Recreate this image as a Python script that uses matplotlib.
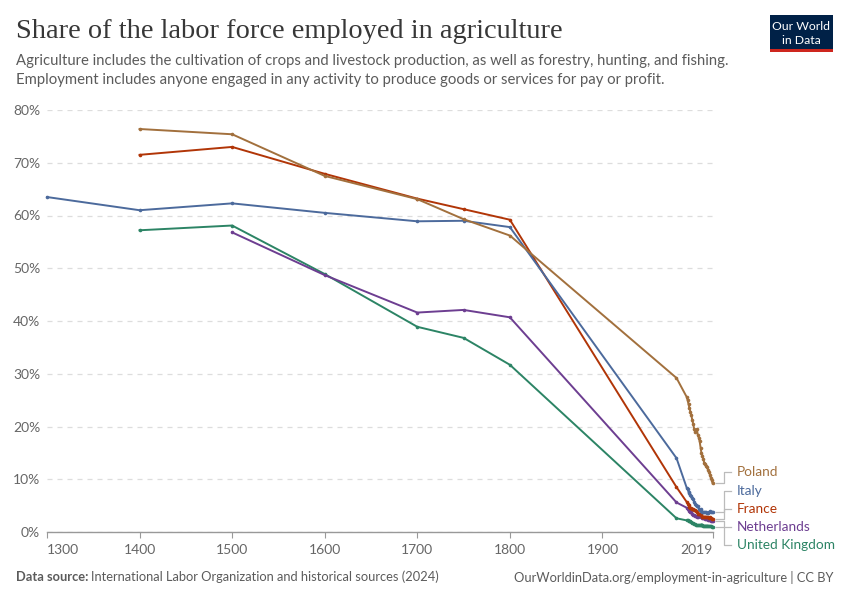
import matplotlib
matplotlib.use("Agg")
import matplotlib.pyplot as plt
from matplotlib.patches import Rectangle

# ---------------- data ----------------
years_hist_pl = [1400, 1500, 1600, 1700, 1750, 1800, 1980]
poland_hist = [76.4, 75.4, 67.5, 63.1, 59.3, 56.2, 29.2]
years_hist_fr = [1400, 1500, 1600, 1700, 1750, 1800, 1980]
france_hist = [71.5, 73.0, 67.9, 63.2, 61.2, 59.2, 8.5]
years_hist_it = [1300, 1400, 1500, 1600, 1700, 1750, 1800, 1980]
italy_hist = [63.5, 61.0, 62.3, 60.5, 58.9, 59.0, 57.8, 14.0]
years_hist_nl = [1500, 1600, 1700, 1750, 1800, 1980]
netherlands_hist = [56.8, 48.7, 41.6, 42.1, 40.7, 5.6]
years_hist_uk = [1400, 1500, 1600, 1700, 1750, 1800, 1980]
uk_hist = [57.2, 58.1, 48.9, 38.9, 36.8, 31.7, 2.6]

years_ilo = list(range(1991, 2020))
poland_ilo = [25.6, 25.0, 24.2, 23.5, 22.8, 22.1, 21.3, 20.5, 19.6, 19.0,
              19.3, 19.5, 18.4, 17.9, 17.2, 16.0, 14.9, 14.5, 13.8, 13.1,
              12.9, 12.6, 12.3, 11.8, 11.4, 10.9, 10.3, 9.8, 9.2]
italy_ilo = [8.4, 8.1, 7.6, 7.3, 7.0, 6.8, 6.5, 6.2, 5.7, 5.3,
             5.2, 4.9, 4.9, 4.4, 4.2, 4.3, 4.0, 3.8, 3.8, 3.8,
             3.7, 3.7, 3.6, 3.6, 3.8, 3.9, 3.8, 3.7, 3.8]
france_ilo = [5.7, 5.4, 5.1, 4.8, 4.6, 4.5, 4.4, 4.3, 4.2, 4.1,
              4.0, 3.7, 3.5, 3.4, 3.5, 3.4, 3.2, 2.9, 2.9, 2.9,
              2.9, 2.9, 2.8, 2.8, 2.7, 2.8, 2.6, 2.5, 2.5]
netherlands_ilo = [4.6, 4.4, 4.2, 4.0, 3.8, 3.7, 3.5, 3.3, 3.2, 3.1,
                   3.0, 2.9, 2.9, 3.0, 3.1, 3.0, 2.8, 2.7, 2.6, 2.7,
                   2.5, 2.5, 2.4, 2.3, 2.3, 2.2, 2.1, 2.1, 2.1]
uk_ilo = [2.2, 2.2, 2.1, 2.1, 2.0, 1.9, 1.8, 1.7, 1.6, 1.5,
          1.4, 1.3, 1.3, 1.3, 1.3, 1.3, 1.4, 1.4, 1.2, 1.2,
          1.2, 1.2, 1.2, 1.2, 1.1, 1.1, 1.1, 1.0, 1.0]

countries = ["Poland", "Italy", "France", "Netherlands", "United Kingdom"]
colors = {"Poland": "#A2703D", "Italy": "#4C6A9C", "France": "#B13507",
          "Netherlands": "#6D3E91", "United Kingdom": "#2C8465"}
series = {
    "Poland": (years_hist_pl + years_ilo, poland_hist + poland_ilo),
    "Italy": (years_hist_it + years_ilo, italy_hist + italy_ilo),
    "France": (years_hist_fr + years_ilo, france_hist + france_ilo),
    "Netherlands": (years_hist_nl + years_ilo, netherlands_hist + netherlands_ilo),
    "United Kingdom": (years_hist_uk + years_ilo, uk_hist + uk_ilo),
}
label_y = {"Poland": 11.4, "Italy": 7.8, "France": 4.35, "Netherlands": 0.95,
           "United Kingdom": -2.45}

x_ticks = [1300, 1400, 1500, 1600, 1700, 1800, 1900, 2019]
y_ticks = [0, 10, 20, 30, 40, 50, 60, 70, 80]

# ---------------- figure ----------------
W, H = 850, 600
fig = plt.figure(figsize=(W / 100, H / 100), dpi=100)
plt.rcParams['font.family'] = ['Lato', 'DejaVu Sans']

def fx(px):
    return px / W

def fy(py):
    return 1 - py / H

ax = fig.add_axes([fx(47), fy(532), fx(712.6) - fx(47), fy(110) - fy(532)])
ax.set_xlim(1300, 2019)
ax.set_ylim(0, 80)

for c in ["United Kingdom", "Netherlands", "France", "Italy", "Poland"]:
    xs, ys = series[c]
    ax.plot(xs, ys, color=colors[c], lw=1.4, marker='o', ms=2.6,
            markeredgewidth=0, clip_on=False, zorder=3)

for s in ["top", "right", "left"]:
    ax.spines[s].set_visible(False)
ax.spines["bottom"].set_color("#999999")
ax.spines["bottom"].set_linewidth(1)

ax.set_yticks(y_ticks)
ax.set_yticklabels([f"{v}%" for v in y_ticks])
ax.tick_params(axis='y', length=0, pad=5, labelsize=10, labelcolor="#666666")
ax.grid(axis='y', color="#dddddd", linestyle=(0, (4, 4)), lw=0.9)
ax.set_axisbelow(True)

ax.set_xticks(x_ticks)
ax.set_xticklabels([str(v) for v in x_ticks])
ax.tick_params(axis='x', length=4, width=0.8, color="#999999", pad=5,
               labelsize=10, labelcolor="#666666")
xl = ax.get_xticklabels()
xl[0].set_horizontalalignment('left')
xl[-1].set_horizontalalignment('right')

# end labels with connectors
x_start, x_elbow, x_end, x_text = 2023, 2031, 2038.5, 2045.5
for c in countries:
    xs, ys = series[c]
    y0 = ys[-1]
    yl = label_y[c]
    ax.plot([x_start, x_elbow, x_elbow, x_end], [y0, y0, yl, yl],
            color="#bbbbbb", lw=0.9, clip_on=False, zorder=1)
    ax.text(x_text, yl, c, color=colors[c], fontsize=9.8, va='center',
            ha='left', clip_on=False)

# title & subtitle
fig.text(fx(16), fy(31), "Share of the labor force employed in agriculture",
         family=["Liberation Serif", "DejaVu Serif"], fontsize=20.4,
         color="#373737", va='center', ha='left')
fig.text(fx(16), fy(61), "Agriculture includes the cultivation of crops and livestock production, as well as forestry, hunting, and fishing.",
         fontsize=10.7, color="#5b5b5b", va='center', ha='left')
fig.text(fx(16), fy(80), "Employment includes anyone engaged in any activity to produce goods or services for pay or profit.",
         fontsize=10.7, color="#5b5b5b", va='center', ha='left')

# logo
fig.patches.append(Rectangle((fx(770), fy(52)), fx(833) - fx(770), fy(15) - fy(52),
                             transform=fig.transFigure, facecolor="#002147",
                             edgecolor='none', zorder=5))
fig.patches.append(Rectangle((fx(770), fy(52)), fx(833) - fx(770), fy(49) - fy(52),
                             transform=fig.transFigure, facecolor="#CE261E",
                             edgecolor='none', zorder=6))
fig.text(fx(801.5), fy(27), "Our World", color="white", fontsize=8.8,
         ha='center', va='center', zorder=7)
fig.text(fx(801.5), fy(40), "in Data", color="white", fontsize=8.8,
         ha='center', va='center', zorder=7)

# footer
t1 = fig.text(fx(16), fy(577), "Data source:", fontsize=9.3, color="#5b5b5b",
              weight='bold', va='center', ha='left')
fig.canvas.draw()
bb = t1.get_window_extent()
fig.text(bb.x1 / W + 3 / W, fy(577),
         "International Labor Organization and historical sources (2024)",
         fontsize=9.3, color="#5b5b5b", va='center', ha='left')
fig.text(fx(834), fy(577), "OurWorldinData.org/employment-in-agriculture | CC BY",
         fontsize=9.3, color="#5b5b5b", va='center', ha='right')

fig.savefig("out.png", dpi=100, facecolor="white")
